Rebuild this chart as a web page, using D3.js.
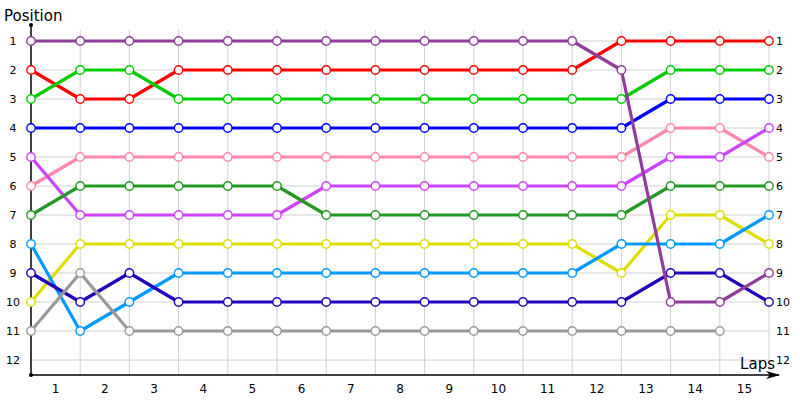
<!DOCTYPE html>
<meta charset="utf-8">
<script src="https://d3js.org/d3.v7.min.js"></script>
<style>
body { margin: 0; background: #fff; }
text { font-family: "DejaVu Sans", Verdana, sans-serif; fill: #000; }
.grid line { stroke: #d0d0d0; stroke-width: 1; }
.axis path, .axis line { display: none; }
</style>
<body>
</body>
<script>

// laps shown under the axis, positions on both sides
var laps = [1, 2, 3, 4, 5, 6, 7, 8, 9, 10, 11, 12, 13, 14, 15];
var positions = [1, 2, 3, 4, 5, 6, 7, 8, 9, 10, 11, 12];
var steps = d3.range(16); // start + 15 laps

// position of each driver at every step
var purple    = [1, 1, 1, 1, 1, 1, 1, 1, 1, 1, 1, 1, 2, 10, 10, 9];
var red       = [2, 3, 3, 2, 2, 2, 2, 2, 2, 2, 2, 2, 1, 1, 1, 1];
var green     = [3, 2, 2, 3, 3, 3, 3, 3, 3, 3, 3, 3, 3, 2, 2, 2];
var blue      = [4, 4, 4, 4, 4, 4, 4, 4, 4, 4, 4, 4, 4, 3, 3, 3];
var pink      = [6, 5, 5, 5, 5, 5, 5, 5, 5, 5, 5, 5, 5, 4, 4, 5];
var violet    = [5, 7, 7, 7, 7, 7, 6, 6, 6, 6, 6, 6, 6, 5, 5, 4];
var darkGreen = [7, 6, 6, 6, 6, 6, 7, 7, 7, 7, 7, 7, 7, 6, 6, 6];
var yellow    = [10, 8, 8, 8, 8, 8, 8, 8, 8, 8, 8, 8, 9, 7, 7, 8];
var skyBlue   = [8, 11, 10, 9, 9, 9, 9, 9, 9, 9, 9, 9, 8, 8, 8, 7];
var navy      = [9, 10, 9, 10, 10, 10, 10, 10, 10, 10, 10, 10, 10, 9, 9, 10];
var gray      = [11, 9, 11, 11, 11, 11, 11, 11, 11, 11, 11, 11, 11, 11, 11];

var series = [
  {color: "#ff0000", values: red},
  {color: "#00cc00", values: green},
  {color: "#0000ff", values: blue},
  {color: "#ff88aa", values: pink},
  {color: "#cc44ff", values: violet},
  {color: "#229922", values: darkGreen},
  {color: "#dddd00", values: yellow},
  {color: "#0099ff", values: skyBlue},
  {color: "#2200bb", values: navy},
  {color: "#999999", values: gray},
  {color: "#913c9c", values: purple}
];

var width = 800;
var height = 400;

var svg = d3.select("body").append("svg")
  .attr("width", width)
  .attr("height", height);

var x = d3.scalePoint()
  .domain(steps)
  .range([31, 769]);

var xLap = d3.scaleBand()
  .domain(laps)
  .range([31, 769]);

var y = d3.scaleLinear()
  .domain([1, 12])
  .range([41, 360]);

var axisY = 375;

// grid
var grid = svg.append("g").attr("class", "grid");
grid.selectAll(".h").data(positions).enter().append("line")
  .attr("x1", x(0)).attr("x2", x(15))
  .attr("y1", function(d) { return y(d); })
  .attr("y2", function(d) { return y(d); });
grid.selectAll(".v").data(steps.slice(1)).enter().append("line")
  .attr("x1", function(d) { return x(d); })
  .attr("x2", function(d) { return x(d); })
  .attr("y1", 30).attr("y2", axisY);

// tick labels
svg.append("g")
  .attr("class", "axis")
  .attr("transform", "translate(13,0)")
  .call(d3.axisLeft(y).tickValues(positions).tickSize(0).tickPadding(0))
  .selectAll("text")
  .attr("text-anchor", "middle")
  .style("font-size", "11px");

svg.append("g")
  .attr("class", "axis")
  .attr("transform", "translate(776,0)")
  .call(d3.axisRight(y).tickValues(positions).tickSize(0).tickPadding(0))
  .selectAll("text")
  .style("font-size", "11px");

svg.append("g")
  .attr("class", "axis")
  .attr("transform", "translate(0," + (axisY + 9) + ")")
  .call(d3.axisBottom(xLap).tickSize(0).tickPadding(0))
  .selectAll("text")
  .style("font-size", "12px");

// axes lines
svg.append("defs").append("marker")
  .attr("id", "arrow")
  .attr("viewBox", "0 0 14 8")
  .attr("refX", 13).attr("refY", 4)
  .attr("markerWidth", 14).attr("markerHeight", 8)
  .attr("markerUnits", "userSpaceOnUse")
  .attr("orient", "auto")
  .append("path")
  .attr("d", "M0,0 L14,4 L0,8 L4,4 Z")
  .attr("fill", "#000");

svg.append("line")
  .attr("x1", x(0)).attr("x2", 779)
  .attr("y1", axisY).attr("y2", axisY)
  .attr("stroke", "#000").attr("stroke-width", 1.5)
  .attr("marker-end", "url(#arrow)");

svg.append("line")
  .attr("x1", x(0)).attr("x2", x(0))
  .attr("y1", 25).attr("y2", axisY)
  .attr("stroke", "#000").attr("stroke-width", 1.5);

svg.selectAll(".dot").data([25, axisY]).enter().append("circle")
  .attr("cx", x(0)).attr("cy", function(d) { return d; })
  .attr("r", 2).attr("fill", "#000");

svg.append("text")
  .attr("x", 4).attr("y", 21)
  .style("font-size", "15px")
  .text("Position");

svg.append("text")
  .attr("x", 775).attr("y", 369)
  .attr("text-anchor", "end")
  .style("font-size", "15px")
  .text("Laps");

// lines
var line = d3.line()
  .x(function(d, i) { return x(i); })
  .y(function(d) { return y(d); });

var driver = svg.selectAll(".driver")
  .data(series).enter().append("g")
  .attr("class", "driver");

driver.append("path")
  .attr("d", function(d) { return line(d.values); })
  .attr("fill", "none")
  .attr("stroke", function(d) { return d.color; })
  .attr("stroke-width", 3.2)
  .attr("stroke-linejoin", "round");

driver.each(function(s) {
  d3.select(this).selectAll("circle")
    .data(s.values).enter().append("circle")
    .attr("cx", function(d, i) { return x(i); })
    .attr("cy", function(d) { return y(d); })
    .attr("r", 4.2)
    .attr("fill", "#fff")
    .attr("stroke", s.color)
    .attr("stroke-width", 1.4);
});

</script>
